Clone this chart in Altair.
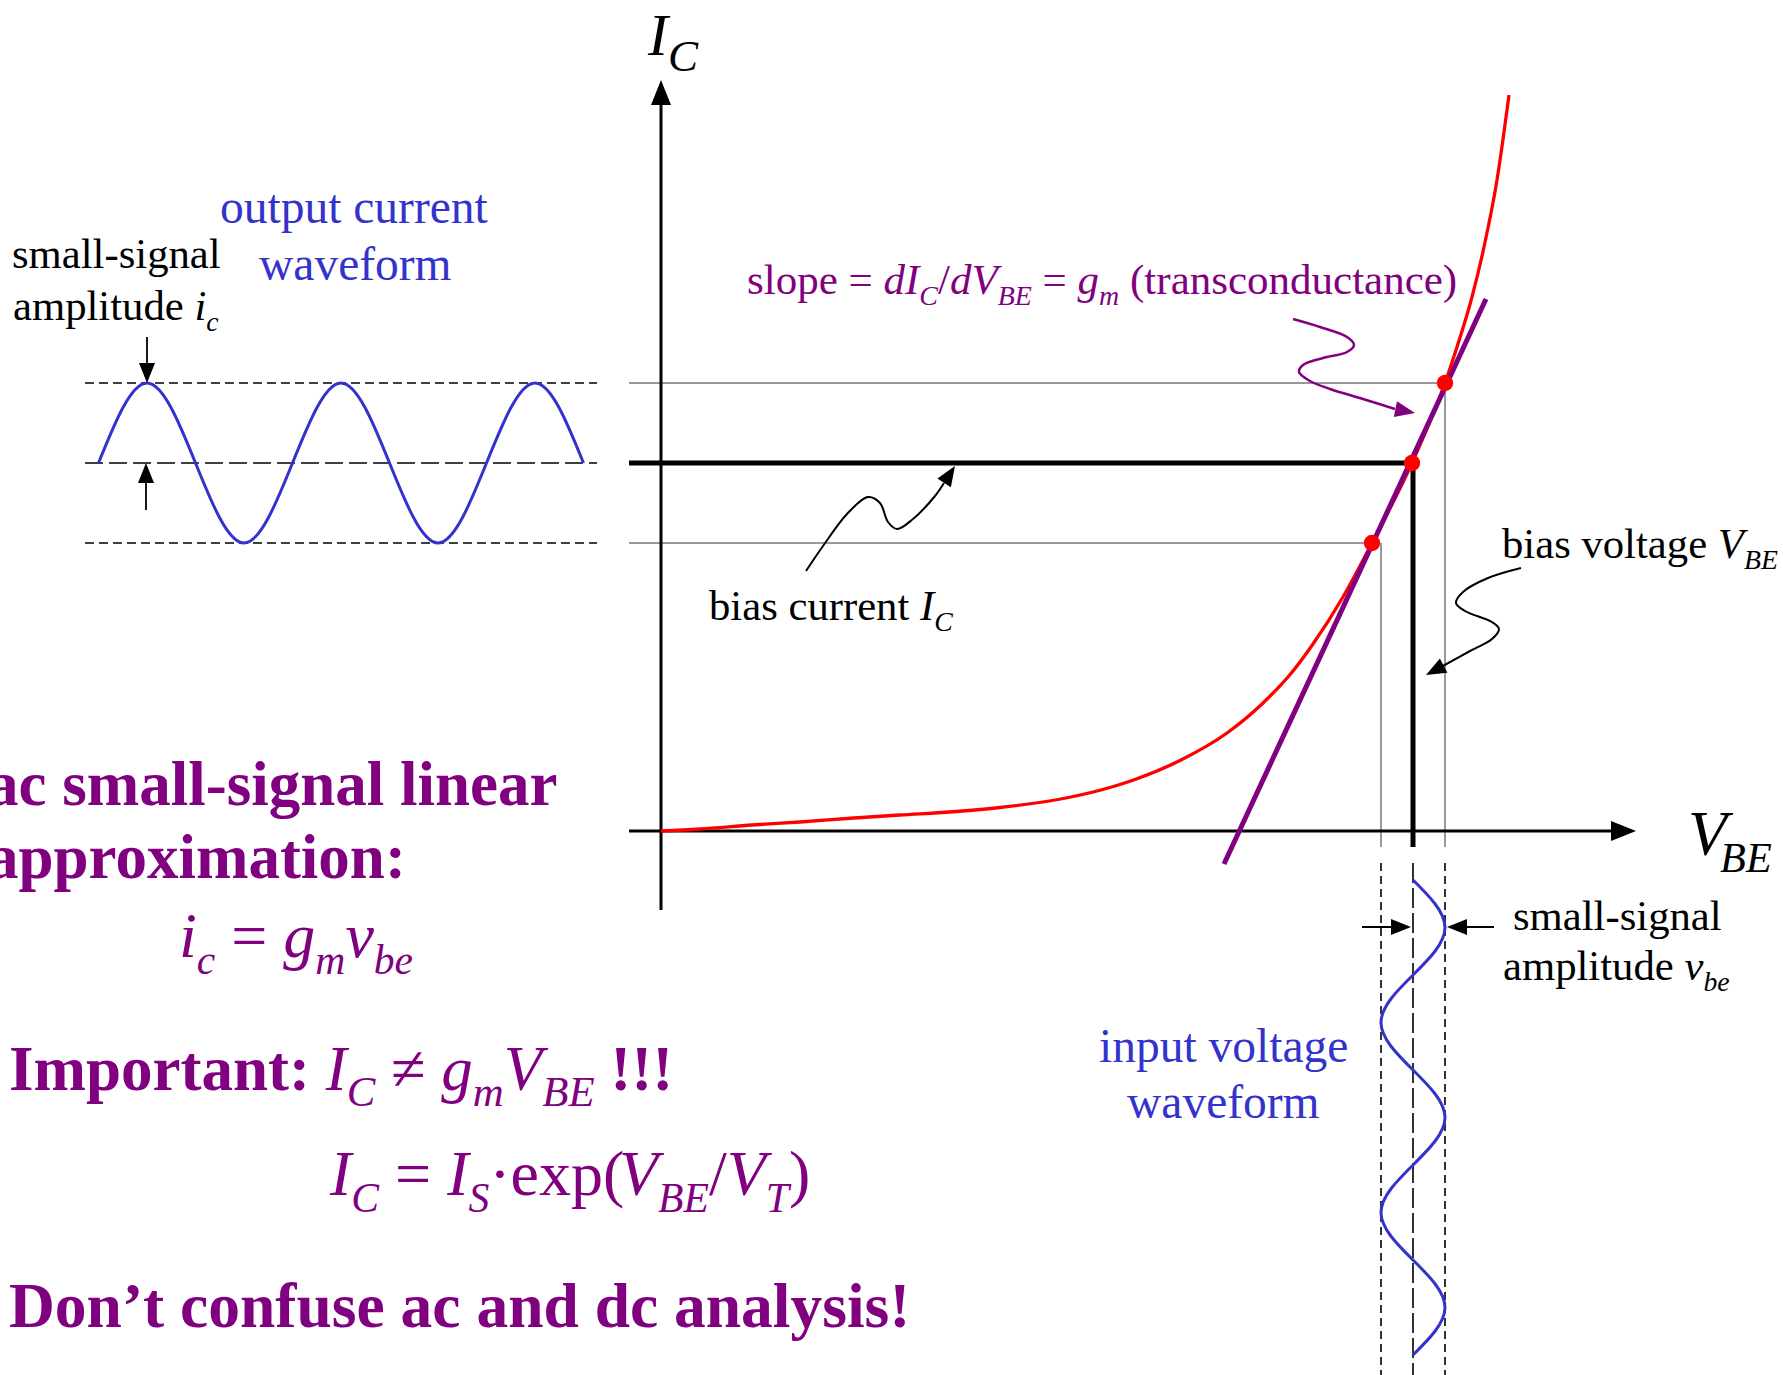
import math
import altair as alt
import pandas as pd

W, H = 1783, 1375
FONT = "Liberation Serif"
RED, PURPLE, BLUE, GRAY, BLACK = "#FF0000", "#800080", "#3333CC", "#999999", "#000000"

# Diagram frame: origin where the V_BE and I_C axes cross (1 unit = 1 px)
XS = alt.Scale(domain=[-661, 1122], nice=False, zero=False)
YS = alt.Scale(domain=[-544, 831], nice=False, zero=False)

# I_C(V_BE) characteristic
curve_vbe = [0, 39, 91, 139, 193, 239, 295, 339, 397, 438, 474, 520, 566, 601,
             632, 652, 682, 711, 751, 784, 796, 811, 823, 836, 848]
curve_ic = [0, 2, 6, 9, 13, 16, 19.5, 23.5, 31.5, 40.5, 51.5, 71, 98, 127,
            160, 187, 234, 288, 368, 448, 484, 534, 584, 651, 736]

# operating point and the two signal extremes on the curve
dot_vbe = [711, 751, 784]
dot_ic = [288, 368, 448]
BIAS_VBE, BIAS_IC = 752, 368
VBE_LO, VBE_HI = 720, 784
IC_LO, IC_HI = 288, 448

# tangent (g_m) through the operating point
tangent_vbe = [563, 825]
tangent_ic = [-33, 532]

# output current waveform, quarter-period samples
icw_t = [-562.5, -514, -465.5, -417, -368.5, -320, -271.5, -223, -174.5, -126, -77.5]
icw_val = [368, 448, 368, 288, 368, 448, 368, 288, 368, 448, 368]

# input voltage waveform, quarter-period samples
vbew_t = [-49, -96.5, -144, -191.5, -239, -286.5, -334, -381.5, -429, -476.5, -524]
vbew_val = [752, 784, 752, 720, 752, 784, 752, 720, 752, 784, 752]

# curly pointer strokes
gm_ptr_u = [632, 659, 686, 693, 686, 662, 642, 638, 649, 669, 702, 734]
gm_ptr_v = [512, 504, 494, 486, 479, 473, 466, 459, 450, 442, 432, 422]
ic_ptr_u = [145, 162, 186, 207, 219, 227, 236, 252, 274, 283]
ic_ptr_v = [260, 285, 317, 334, 328, 309, 302, 312, 335, 348]
vbe_ptr_u = [860, 827, 802, 795, 804, 831, 838, 831, 809, 780]
vbe_ptr_v = [263, 253, 239, 228, 220, 209, 202, 192, 180, 164]


def segs(items):
    rows = []
    for name, us, vs in items:
        for k, (u, v) in enumerate(zip(us, vs)):
            rows.append({"id": name, "k": k, "u": u, "v": v})
    return pd.DataFrame(rows)


def lines(df, color, width, dash=None, interp="linear"):
    kw = dict(color=color, strokeWidth=width, interpolate=interp, strokeCap="butt")
    if dash:
        kw["strokeDash"] = dash
    return alt.Chart(df).mark_line(**kw).encode(
        x=alt.X("u:Q", scale=XS, axis=None),
        y=alt.Y("v:Q", scale=YS, axis=None),
        detail="id:N",
        order="k:Q",
    )


L_LEFT, L_RIGHT = -576, -64
AX_L = -32

gray_df = segs([
    ("hi_h", [AX_L, VBE_HI], [IC_HI, IC_HI]),
    ("lo_h", [AX_L, dot_vbe[0]], [IC_LO, IC_LO]),
    ("hi_v", [VBE_HI, VBE_HI], [IC_HI, -16]),
    ("lo_v", [VBE_LO, VBE_LO], [IC_LO, -16]),
])
h_short_df = segs([
    ("l_top", [L_LEFT, L_RIGHT], [IC_HI, IC_HI]),
    ("l_bot", [L_LEFT, L_RIGHT], [IC_LO, IC_LO]),
])
v_short_df = segs([
    ("r_lo", [VBE_LO, VBE_LO], [-32, -544]),
    ("r_hi", [VBE_HI, VBE_HI], [-32, -544]),
])
h_long_df = segs([("l_mid", [L_LEFT, L_RIGHT], [BIAS_IC, BIAS_IC])])
v_long_df = segs([("r_mid", [BIAS_VBE, BIAS_VBE], [-32, -544])])
bias_df = segs([
    ("bias_h", [AX_L, BIAS_VBE], [BIAS_IC, BIAS_IC]),
    ("bias_v", [BIAS_VBE, BIAS_VBE], [BIAS_IC, -16]),
])
axes_df = segs([
    ("y_axis", [0, 0], [-79, 730]),
    ("x_axis", [AX_L, 955], [0, 0]),
])
shaft_df = segs([
    ("ic_dn", [-514, -514], [494, 462]),
    ("ic_up", [-515, -515], [321, 354]),
    ("vbe_l", [701, 736], [-96, -96]),
    ("vbe_r", [833, 800], [-96, -96]),
])
curve_df = segs([("curve", curve_vbe, curve_ic)])
tangent_df = segs([("tangent", tangent_vbe, tangent_ic)])
wave_df = segs([("ic_wave", icw_t, icw_val), ("vbe_wave", vbew_val, vbew_t)])
gm_ptr_df = segs([("gm", gm_ptr_u, gm_ptr_v)])
blk_ptr_df = segs([("ic", ic_ptr_u, ic_ptr_v), ("vbe", vbe_ptr_u, vbe_ptr_v)])
dots_df = pd.DataFrame({"u": dot_vbe, "v": dot_ic})

# arrowheads: tip, point just behind the tip, colour, symbol size
heads = [
    (0, 751, 0, 726, BLACK, 625),
    (975, 0, 950, 0, BLACK, 625),
    (-514, 448, -514, 470, BLACK, 400),
    (-515, 368, -515, 346, BLACK, 400),
    (750, -96, 730, -96, BLACK, 400),
    (786, -96, 806, -96, BLACK, 400),
    (754, 418, gm_ptr_u[-1], gm_ptr_v[-1], PURPLE, 400),
    (294, 365, ic_ptr_u[-1], ic_ptr_v[-1], BLACK, 400),
    (765, 156, vbe_ptr_u[-1], vbe_ptr_v[-1], BLACK, 400),
]
head_df = pd.DataFrame([
    {"u": tu, "v": tv,
     "ang": math.degrees(math.atan2(tu - bu, tv - bv)) % 360,
     "col": c, "sz": s}
    for tu, tv, bu, bv, c, s in heads
])

arrowheads = alt.Chart(head_df).mark_point(
    shape="M0,0L0.8,2L-0.8,2Z", filled=True, opacity=1
).encode(
    x=alt.X("u:Q", scale=XS, axis=None),
    y=alt.Y("v:Q", scale=YS, axis=None),
    angle=alt.Angle("ang:Q", scale=None),
    color=alt.Color("col:N", scale=None),
    size=alt.Size("sz:Q", scale=None),
)

dots = alt.Chart(dots_df).mark_circle(size=270, color=RED, opacity=1).encode(
    x=alt.X("u:Q", scale=XS, axis=None),
    y=alt.Y("v:Q", scale=YS, axis=None),
)

# ---- text with italic variables and subscripts ----
REG = {' ': 250, '!': 333, '(': 333, ')': 333, '-': 333, '/': 278, '=': 564,
       '·': 250, '≠': 549, 'a': 444, 'b': 500, 'c': 444, 'd': 500, 'e': 444,
       'f': 333, 'g': 500, 'h': 500, 'i': 278, 'l': 278, 'm': 778, 'n': 500,
       'o': 500, 'p': 500, 'r': 333, 's': 389, 't': 278, 'u': 500, 'v': 500,
       'w': 722, 'x': 500, 'y': 500}
ITA = {' ': 250, 'I': 333, 'C': 667, 'V': 611, 'B': 611, 'E': 611, 'S': 500,
       'T': 556, 'd': 500, 'g': 500, 'm': 722, 'i': 278, 'c': 444, 'v': 444,
       'b': 500, 'e': 444}
BOLD = {' ': 250, '!': 333, '’': 333, '-': 333, ':': 333, 'D': 722, 'I': 389,
        'a': 500, 'c': 444, 'd': 556, 'e': 444, 'f': 333, 'g': 500, 'i': 278,
        'l': 278, 'm': 833, 'n': 556, 'o': 500, 'p': 556, 'r': 444, 's': 389,
        't': 333, 'u': 556, 'x': 500, 'y': 500}
WIDTHS = {"r": REG, "i": ITA, "b": BOLD}


def adv(text, style):
    t = WIDTHS[style]
    return sum(t.get(ch, 500) for ch in text) / 1000.0


text_rows = []


def rich(u, v, size, color, runs, sub=0.65):
    x = u
    for run in runs:
        text, style = run[0], run[1]
        is_sub = len(run) > 2 and run[2]
        kern = run[3] if len(run) > 3 else 0
        s = size * sub if is_sub else size
        x += kern
        lead = len(text) - len(text.lstrip(" "))
        body = text.strip(" ")
        if body:
            text_rows.append({
                "u": x + adv(" " * lead, style) * s,
                "v": v - (0.26 * size if is_sub else 0),
                "text": body, "size": s, "color": color, "style": style,
            })
        x += adv(text, style) * s


BLUE_SZ, BLACK_SZ = 47.5, 42.7

rich(-441, 608, BLUE_SZ, BLUE, [("output current", "r")])
rich(-402, 551, BLUE_SZ, BLUE, [("waveform", "r")])
rich(438, -231, BLUE_SZ, BLUE, [("input voltage", "r")])
rich(466, -287, BLUE_SZ, BLUE, [("waveform", "r")])

rich(-649, 563, BLACK_SZ, BLACK, [("small-signal", "r")])
rich(-648, 511, BLACK_SZ, BLACK, [("amplitude ", "r"), ("i", "i"), ("c", "i", True)])
rich(48, 211, BLACK_SZ, BLACK, [("bias current ", "r"), ("I", "i"), ("C", "i", True)])
rich(841, 273, BLACK_SZ, BLACK, [("bias voltage ", "r"), ("V", "i"), ("BE", "i", True)])
rich(852, -99, BLACK_SZ, BLACK, [("small-signal", "r")])
rich(842, -149, BLACK_SZ, BLACK, [("amplitude ", "r"), ("v", "i"), ("be", "i", True)])

rich(-13, 776, 60, BLACK, [("I", "i"), ("C", "i", True)], sub=0.75)
rich(1027, -24, 64, BLACK, [("V", "i"), ("BE", "i", True, -7)], sub=0.66)

rich(86, 537, 43, PURPLE, [
    ("slope = ", "r"), ("dI", "i"), ("C", "i", True), ("/", "r"), ("dV", "i"),
    ("BE", "i", True), (" = ", "r"), ("g", "i"), ("m", "i", True),
    (" (transconductance)", "r"),
])

rich(-674, 26, 63, PURPLE, [("ac small-signal linear", "b")])
rich(-674, -47, 63, PURPLE, [("approximation:", "b")])
rich(-482, -126, 64, PURPLE, [
    ("i", "i"), ("c", "i", True), (" = ", "r"), ("g", "i"), ("m", "i", True),
    ("v", "i"), ("be", "i", True),
])
rich(-652, -259, 63, PURPLE, [
    ("Important: ", "b"), ("I", "i"), ("C", "i", True), (" ≠ ", "r"),
    ("g", "i"), ("m", "i", True), ("V", "i"), ("BE", "i", True), (" !!!", "b"),
], sub=0.68)
rich(-331, -364, 64, PURPLE, [
    ("I", "i"), ("C", "i", True), (" = ", "r"), ("I", "i"), ("S", "i", True),
    ("·exp(", "r"), ("V", "i"), ("BE", "i", True), ("/", "r"), ("V", "i"),
    ("T", "i", True), (")", "r"),
])
rich(-652, -496, 63.5, PURPLE, [("Don’t confuse ac and dc analysis!", "b")])

text_df = pd.DataFrame(text_rows)

STYLE_KW = {
    "r": dict(fontStyle="normal", fontWeight="normal"),
    "i": dict(fontStyle="italic", fontWeight="normal"),
    "b": dict(fontStyle="normal", fontWeight="bold"),
}
text_layers = [
    alt.Chart(text_df[text_df["style"] == st]).mark_text(
        align="left", baseline="alphabetic", font=FONT, **kw
    ).encode(
        x=alt.X("u:Q", scale=XS, axis=None),
        y=alt.Y("v:Q", scale=YS, axis=None),
        text="text:N",
        size=alt.Size("size:Q", scale=None),
        color=alt.Color("color:N", scale=None),
    )
    for st, kw in STYLE_KW.items()
]

chart = alt.layer(
    lines(gray_df, GRAY, 2),
    lines(h_short_df, BLACK, 1.6, dash=[9, 5]),
    lines(v_short_df, BLACK, 1.6, dash=[8, 5]),
    lines(h_long_df, BLACK, 1.6, dash=[18, 6]),
    lines(v_long_df, BLACK, 1.6, dash=[20, 5]),
    lines(bias_df, BLACK, 5),
    lines(axes_df, BLACK, 3),
    lines(curve_df, RED, 3.3, interp="monotone"),
    lines(tangent_df, PURPLE, 5),
    dots,
    lines(wave_df, BLUE, 3, interp="natural"),
    lines(gm_ptr_df, PURPLE, 2.5, interp="catmull-rom"),
    lines(blk_ptr_df, BLACK, 2, interp="catmull-rom"),
    lines(shaft_df, BLACK, 1.8),
    arrowheads,
    *text_layers,
).properties(
    width=W, height=H, padding=0,
    autosize=alt.AutoSizeParams(type="none"),
    background="white",
).configure_view(stroke=None)

chart.save("out.html", embed_options={"renderer": "svg", "actions": False})
